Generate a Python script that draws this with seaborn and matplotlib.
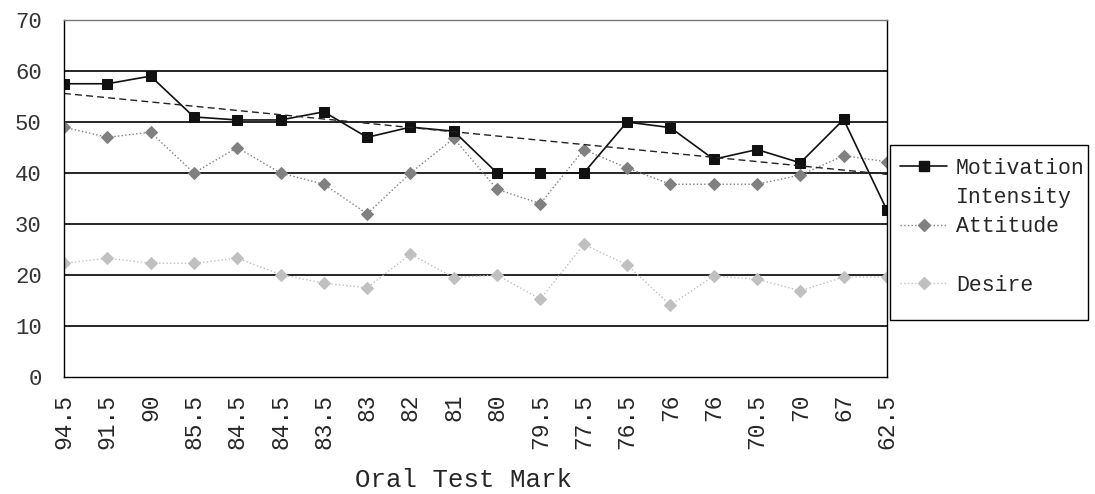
import numpy as np
import pandas as pd
import seaborn as sns
import matplotlib.pyplot as plt
from matplotlib.lines import Line2D
from matplotlib.patches import Rectangle

# oral test marks (x categories, in order; some repeat)
marks = ["94.5", "91.5", "90", "85.5", "84.5", "84.5", "83.5", "83", "82", "81",
         "80", "79.5", "77.5", "76.5", "76", "76", "70.5", "70", "67", "62.5"]
motivation = [57.5, 57.5, 59, 51, 50.4, 50.4, 52, 47, 49, 48.2,
              40, 40, 40, 50, 48.9, 42.7, 44.6, 42, 50.5, 32.7]
attitude = [49, 47, 48, 40, 45, 40, 37.8, 32, 40, 46.8,
            36.8, 34, 44.6, 41, 37.8, 37.8, 37.8, 39.6, 43.4, 42.2]
desire = [22.3, 23.3, 22.3, 22.3, 23.3, 20.1, 18.4, 17.5, 24.1, 19.5,
          20, 15.3, 26, 22, 14.1, 19.8, 19.2, 16.9, 19.6, 19.6]

df = pd.DataFrame({"pos": np.arange(len(marks)), "mark": marks,
                   "motivation": motivation, "attitude": attitude, "desire": desire})

sns.set_style("white")
plt.rcParams["font.family"] = ["Liberation Mono", "DejaVu Sans Mono"]

fig = plt.figure(figsize=(10.95, 4.94), dpi=100)
ax = fig.add_axes([0.0584, 0.2368, 0.7516, 0.7227])

# horizontal grid lines
for v in range(10, 70, 10):
    ax.axhline(v, color="black", lw=1.2, zorder=0)

sns.lineplot(data=df, x="pos", y="desire", ax=ax, color="#c0c0c0", lw=1,
             linestyle=":", marker="D", markersize=6, markeredgecolor="#c0c0c0")
sns.lineplot(data=df, x="pos", y="attitude", ax=ax, color="#808080", lw=1,
             linestyle=":", marker="D", markersize=6, markeredgecolor="#808080")
sns.lineplot(data=df, x="pos", y="motivation", ax=ax, color="#111111", lw=1.2,
             marker="s", markersize=7, markeredgecolor="#111111")
# linear trend of motivation intensity
sns.regplot(data=df, x="pos", y="motivation", ax=ax, scatter=False, ci=None,
            line_kws=dict(color="#222222", lw=1, linestyle=(0, (5, 3))))

ax.set_xlim(0, len(marks) - 1)
ax.set_ylim(0, 70)
ax.set_yticks(range(0, 80, 10))
ax.set_xticks(df["pos"])
ax.set_xticklabels(marks, rotation=90, fontsize=16.5)
ax.tick_params(axis="x", direction="in", length=5, width=1, pad=12, color="black")
ax.tick_params(axis="y", length=0, pad=16, labelsize=16, labelcolor="#333333")
ax.set_xlabel("Oral Test Mark", fontsize=18.5, labelpad=13)
ax.xaxis.set_label_coords(0.485, -0.255)
ax.set_ylabel("")

for side, sp in ax.spines.items():
    sp.set_visible(True)
    sp.set_color("black")
    sp.set_linewidth(1)
ax.spines["top"].set_color("#777777")

blank = Line2D([], [], color="none")
handles = [
    Line2D([], [], color="#111111", lw=1.2, marker="s", markersize=7),
    blank,
    Line2D([], [], color="#808080", lw=1, linestyle=":", marker="D", markersize=6),
    blank,
    Line2D([], [], color="#c0c0c0", lw=1, linestyle=":", marker="D", markersize=6),
]
labels = ["Motivation", "Intensity", "Attitude", "", "Desire"]
ax.legend(handles, labels, loc="upper left", bbox_to_anchor=(1.0158, 0.614),
          fontsize=15.5, frameon=False, handlelength=2.2, handletextpad=0.4,
          labelspacing=0.38, borderpad=0, borderaxespad=0)
# legend box
fig.patches.append(Rectangle((890 / 1095, 1 - 320 / 494), 198 / 1095, 175 / 494,
                             transform=fig.transFigure, fill=False,
                             edgecolor="black", lw=1))

fig.savefig("out.png", dpi=100)
